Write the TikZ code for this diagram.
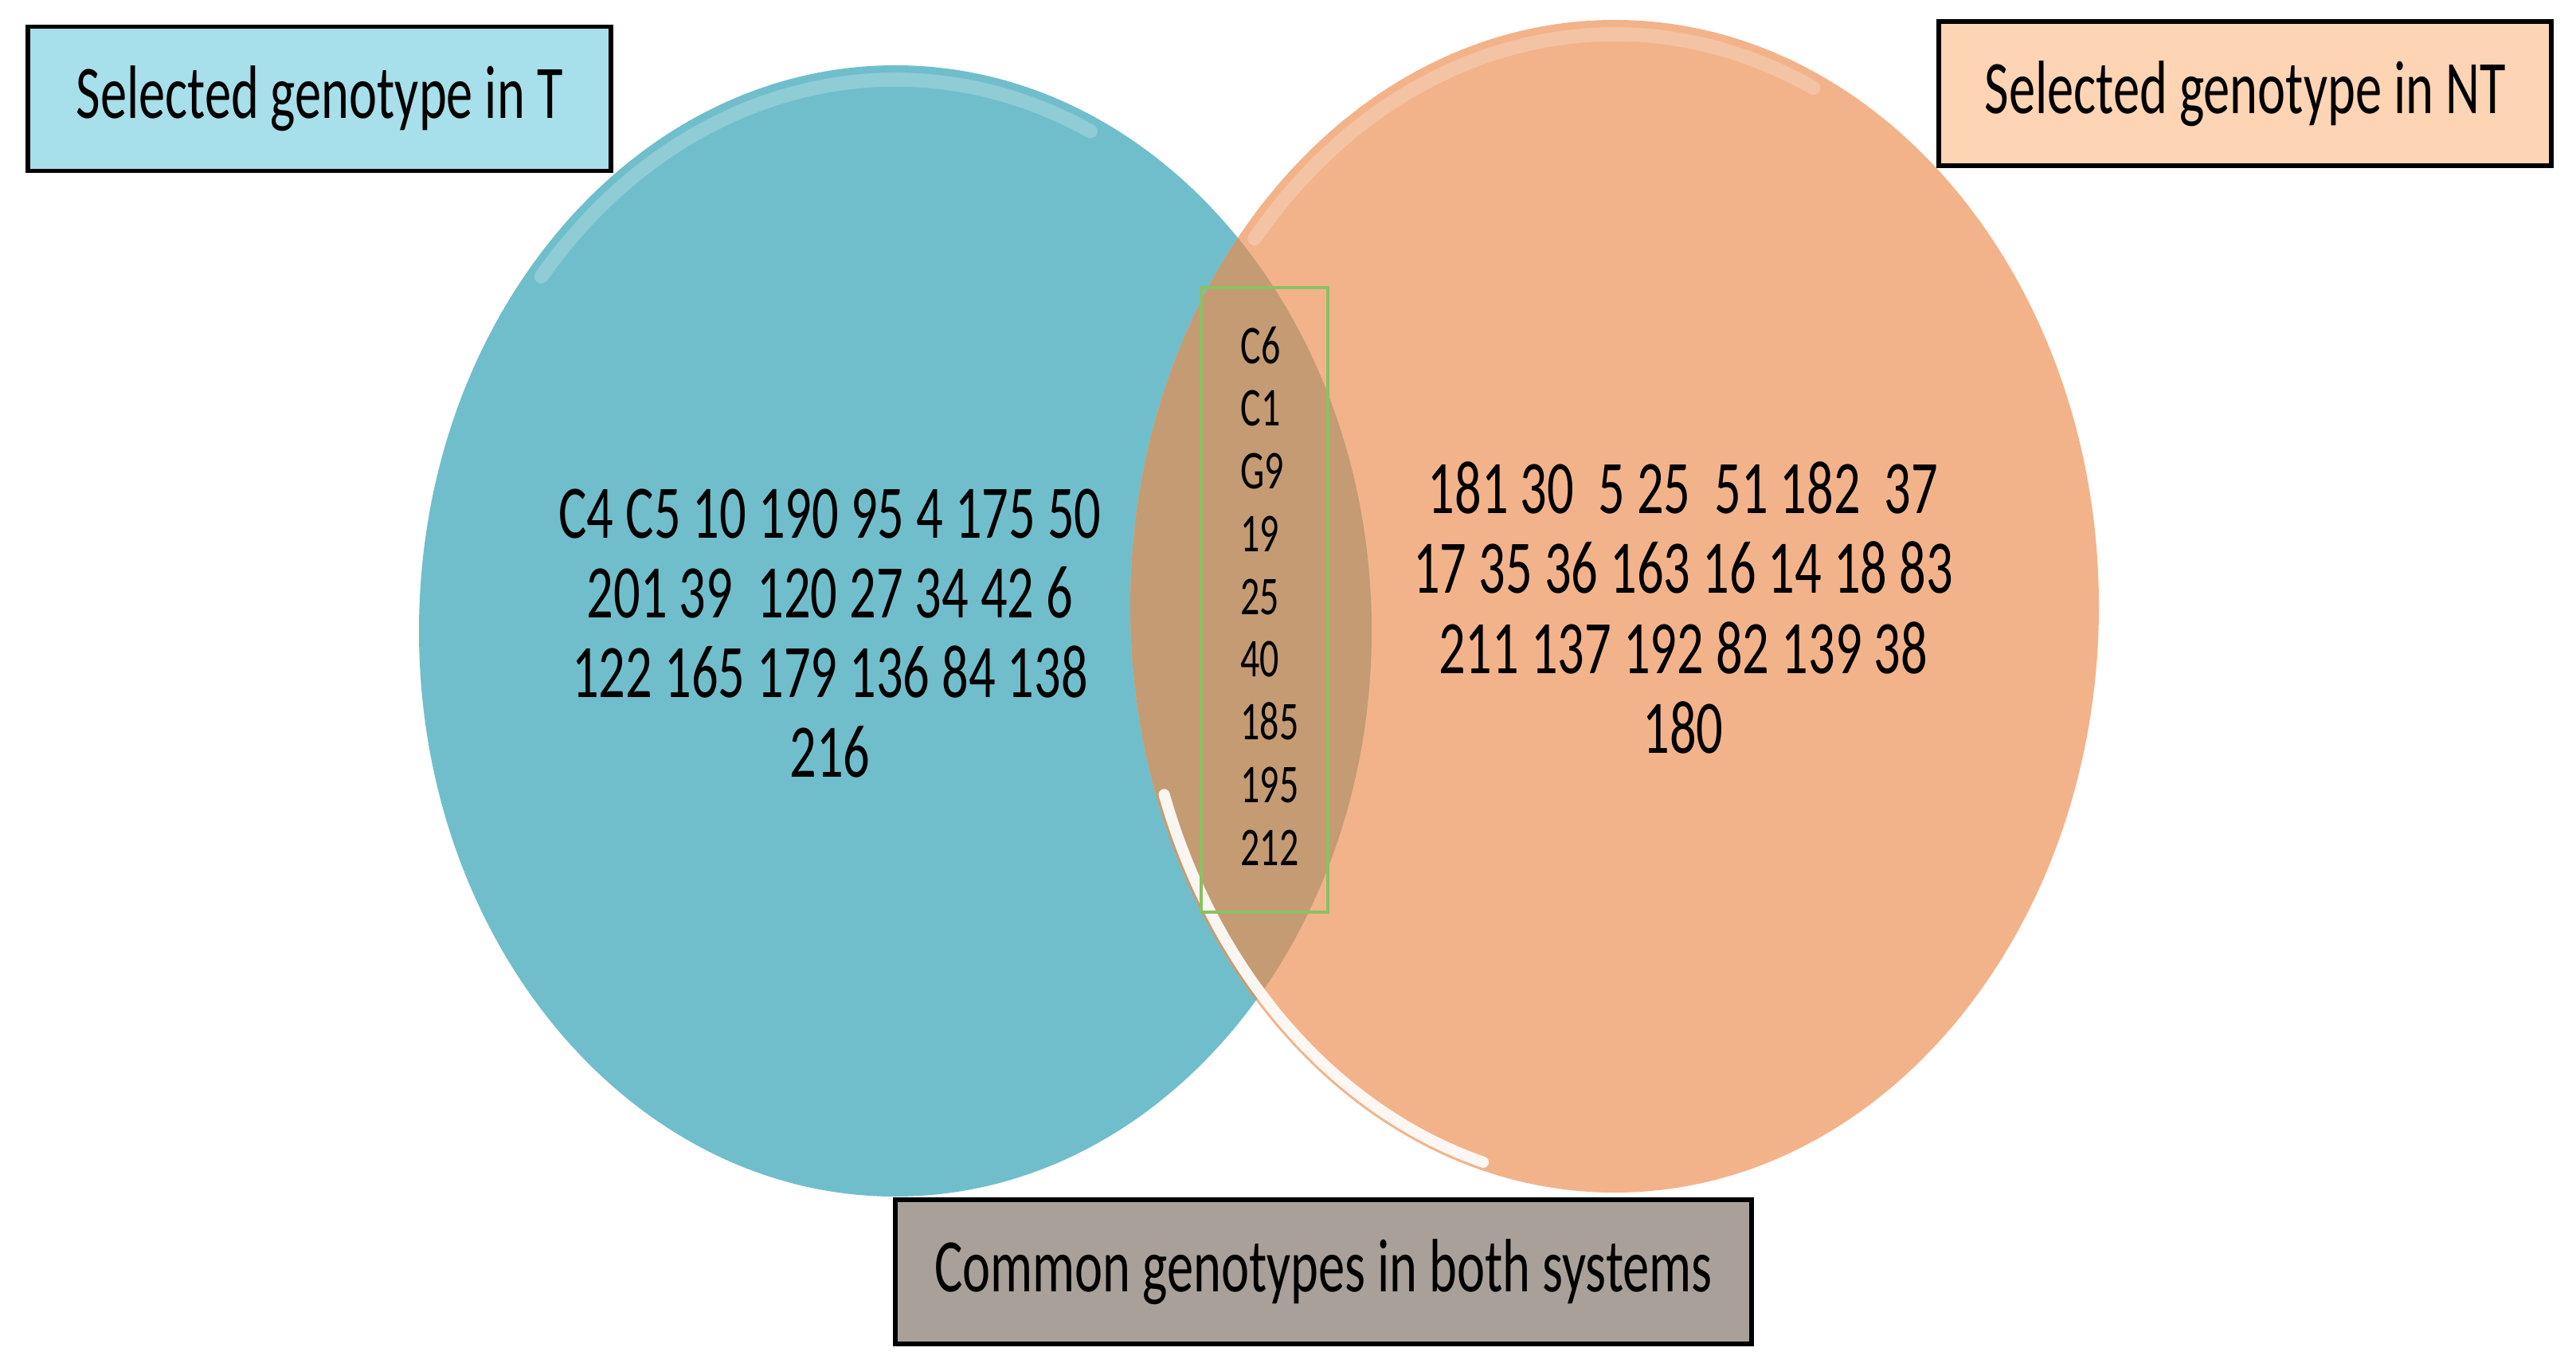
\documentclass[tikz,border=0pt]{standalone}
\usepackage{fontspec}
\setmainfont{Carlito}[FakeStretch=0.7]
\usepackage{tikz}
\usepackage{xcolor}

\definecolor{tealset}{HTML}{70BECB}
\definecolor{peachset}{HTML}{F2B38B}
\definecolor{interset}{HTML}{C49B73}
\definecolor{tealbox}{HTML}{A7DFEA}
\definecolor{peachbox}{HTML}{FDD4B4}
\definecolor{greybox}{HTML}{A9A199}
\definecolor{greenframe}{HTML}{8CC063}

\begin{document}
\begin{tikzpicture}[
        labelbox/.style={draw=black, line width=1.6pt, minimum height=1.81cm, font=\fontsize{27}{28}\selectfont},
        setlist/.style={align=center, font=\fontsize{27}{28.5}\selectfont},
        shine/.style={white, line cap=round}]
        \useasboundingbox (0,0) rectangle (32.34,17.2);

        \fill[tealset] (11.24,9.28) ellipse [x radius=5.98, y radius=7.10];
        \fill[peachset] (20.27,9.59) ellipse [x radius=6.08, y radius=7.36];
        \begin{scope}
            \clip (11.24,9.28) ellipse [x radius=5.98, y radius=7.10];
            \fill[interset] (20.27,9.59) ellipse [x radius=6.08, y radius=7.36];
        \end{scope}
        \draw[shine, line width=4pt, opacity=0.9] (20.27,9.59) ++(199:5.98 and 7.26) arc [start angle=199, end angle=254, x radius=5.98, y radius=7.26];
        \draw[shine, line width=5pt, opacity=0.22] (20.27,9.59) ++(65:5.9 and 7.18) arc [start angle=65, end angle=140, x radius=5.9, y radius=7.18];
        \draw[shine, line width=5pt, opacity=0.22] (11.24,9.28) ++(65:5.8 and 6.92) arc [start angle=65, end angle=140, x radius=5.8, y radius=6.92];

        \node[draw=greenframe, line width=1.2pt, minimum width=1.59cm, minimum height=7.84cm] (commonframe) at (15.875,9.67) {};
        \node[anchor=west, align=left, font=\fontsize{19.5}{22.4}\selectfont] (commonlist) at (15.45,9.72)
            {C6\\C1\\G9\\19\\25\\40\\185\\195\\212};

        \node[setlist] (tlist) at (10.42,9.25)
            {C4 C5 10 190 95 4 175 50\\201 39~ 120 27 34 42 6\\122 165 179 136 84 138\\216};
        \node[setlist] (ntlist) at (21.13,9.57)
            {181 30~ 5 25~ 51 182~ 37\\17 35 36 163 16 14 18 83\\211 137 192 82 139 38\\180};

        \node[labelbox, fill=tealbox, minimum width=7.32cm] (tlabel) at (4.01,15.96) {Selected genotype in T};
        \node[labelbox, fill=peachbox, minimum width=7.69cm] (ntlabel) at (28.185,16.025) {Selected genotype in NT};
        \node[labelbox, fill=greybox, minimum width=10.75cm] (bothlabel) at (16.615,1.235) {Common genotypes in both systems};
\end{tikzpicture}
\end{document}
